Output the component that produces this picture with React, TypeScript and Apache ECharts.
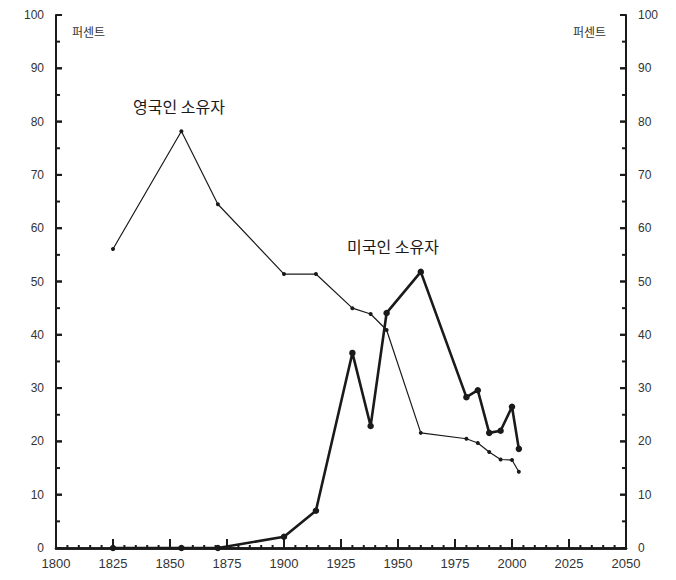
import React, { useEffect, useRef } from "react";
import * as echarts from "echarts";

const britishYears = [1825, 1855, 1871, 1900, 1914, 1930, 1938, 1945, 1960, 1980, 1985, 1990, 1995, 2000, 2003];
const britishValues = [56.1, 78.2, 64.5, 51.4, 51.4, 45.0, 43.9, 40.9, 21.6, 20.5, 19.7, 18.0, 16.6, 16.5, 14.3];

const americanYears = [1825, 1855, 1871, 1900, 1914, 1930, 1938, 1945, 1960, 1980, 1985, 1990, 1995, 2000, 2003];
const americanValues = [0, 0, 0, 2.1, 7.0, 36.6, 22.9, 44.1, 51.8, 28.3, 29.6, 21.6, 22.0, 26.5, 18.6];

const xTickLabels = [1800, 1825, 1850, 1875, 1900, 1925, 1950, 1975, 2000, 2025, 2050];
const yTickLabels = [0, 10, 20, 30, 40, 50, 60, 70, 80, 90, 100];

const unitLabel = "퍼센트";
const britishLabel = "영국인 소유자";
const americanLabel = "미국인 소유자";

const INK = "#1a1a1a";
const TEXT = "#333333";
const LATIN = "'Liberation Sans', Arial, sans-serif";
const KR = "'Noto Sans CJK KR', sans-serif";

const X_MIN = 1800;
const X_MAX = 2050;
const Y_MIN = 0;
const Y_MAX = 100;

const xMinorTicks: number[] = [];
for (let i = 0; i < xTickLabels.length - 1; i++) {
  const step = (xTickLabels[i + 1] - xTickLabels[i]) / 5;
  for (let k = 1; k < 5; k++) xMinorTicks.push(xTickLabels[i] + step * k);
}
const yMinorTicks: number[] = [];
for (let i = 0; i < yTickLabels.length - 1; i++) {
  yMinorTicks.push((yTickLabels[i] + yTickLabels[i + 1]) / 2);
}

function tickSeries(positions: number[], axis: "x" | "left" | "right", len: number, asRect: boolean) {
  return {
    type: "custom",
    silent: true,
    clip: false,
    z: 6,
    data: positions.map((p) => (axis === "x" ? [p, Y_MIN] : [axis === "left" ? X_MIN : X_MAX, p])),
    renderItem: (_params: any, api: any) => {
      const pt = api.coord([api.value(0), api.value(1)]);
      if (asRect) {
        let shape;
        if (axis === "x") shape = { x: pt[0] - 1, y: pt[1] - len, width: 2, height: len };
        else if (axis === "left") shape = { x: pt[0], y: pt[1] - 1, width: len, height: 2 };
        else shape = { x: pt[0] - len, y: pt[1] - 1, width: len, height: 2 };
        return { type: "rect", shape, style: { fill: INK } };
      }
      let x2 = pt[0];
      let y2 = pt[1];
      if (axis === "x") y2 = pt[1] - len;
      else if (axis === "left") x2 = pt[0] + len;
      else x2 = pt[0] - len;
      return {
        type: "line",
        shape: { x1: pt[0], y1: pt[1], x2, y2 },
        style: { stroke: INK, lineWidth: 2 },
      };
    },
  };
}

export default function App() {
  const ref = useRef<HTMLDivElement>(null);

  useEffect(() => {
    document.body.style.margin = "0";
    const chart = echarts.init(ref.current!, null, { renderer: "svg" });

    const yAxis = (pos: "left" | "right") => ({
      type: "value" as const,
      position: pos,
      min: Y_MIN,
      max: Y_MAX,
      interval: 10,
      axisLine: { show: true, lineStyle: { color: INK, width: 2 } },
      axisTick: { show: false },
      splitLine: { show: false },
      axisLabel: { show: true, color: TEXT, fontFamily: LATIN, fontSize: 12, margin: 12 },
    });

    chart.setOption({
      animation: false,
      grid: { left: 56, right: 50, top: 15, bottom: 32, show: false },
      xAxis: [
        {
          type: "value",
          position: "bottom",
          min: X_MIN,
          max: X_MAX,
          interval: 25,
          axisLine: { show: true, lineStyle: { color: INK, width: 2.5 } },
          axisTick: { show: false },
          splitLine: { show: false },
          axisLabel: {
            color: TEXT,
            fontFamily: LATIN,
            fontSize: 13,
            margin: 9,
            formatter: (v: number) => String(v),
          },
        },
        {
          type: "value",
          position: "top",
          min: X_MIN,
          max: X_MAX,
          interval: 25,
          axisLine: { show: true, lineStyle: { color: INK, width: 2.5 } },
          axisTick: { show: false },
          splitLine: { show: false },
          axisLabel: { show: false },
        },
      ],
      yAxis: [yAxis("left"), yAxis("right")],
      series: [
        tickSeries(xTickLabels, "x", 9, true),
        tickSeries(xMinorTicks, "x", 3, false),
        tickSeries(yTickLabels, "left", 6, true),
        tickSeries(yMinorTicks, "left", 4, false),
        tickSeries(yTickLabels, "right", 6, true),
        tickSeries(yMinorTicks, "right", 4, false),
        {
          type: "line",
          name: britishLabel,
          data: britishYears.map((y, i) => [y, britishValues[i]]),
          symbol: "circle",
          symbolSize: 4,
          lineStyle: { color: INK, width: 1.2 },
          itemStyle: { color: INK },
          z: 3,
        },
        {
          type: "line",
          name: americanLabel,
          data: americanYears.map((y, i) => [y, americanValues[i]]),
          symbol: "circle",
          symbolSize: 6.5,
          lineStyle: { color: INK, width: 2.6 },
          itemStyle: { color: INK },
          z: 4,
        },
      ],
    });

    // Major ticks again as graphic rects, positioned through the axes' own scales
    const px = (v: number) => chart.convertToPixel({ xAxisIndex: 0 }, v) as number;
    const py = (v: number) => chart.convertToPixel({ yAxisIndex: 0 }, v) as number;
    const xl = px(X_MIN);
    const xr = px(X_MAX);
    const yb = py(Y_MIN);
    const tickRects: any[] = [];
    xTickLabels.forEach((v) => {
      tickRects.push({ type: "rect", z: 20, silent: true, shape: { x: px(v) - 1, y: yb - 9, width: 2, height: 9 }, style: { fill: INK } });
    });
    yTickLabels.forEach((v) => {
      tickRects.push({ type: "rect", z: 20, silent: true, shape: { x: xl, y: py(v) - 1, width: 6, height: 2 }, style: { fill: INK } });
      tickRects.push({ type: "rect", z: 20, silent: true, shape: { x: xr - 6, y: py(v) - 1, width: 6, height: 2 }, style: { fill: INK } });
    });

    chart.setOption({
      graphic: [
        { type: "text", left: 72, top: 25, style: { text: unitLabel, fill: TEXT, font: `12px ${KR}` } },
        { type: "text", left: 573, top: 25, style: { text: unitLabel, fill: TEXT, font: `12px ${KR}` } },
        { type: "text", left: 133, top: 98, style: { text: britishLabel, fill: INK, font: `16px ${KR}` } },
        { type: "text", left: 347, top: 238, style: { text: americanLabel, fill: INK, font: `16px ${KR}` } },
        ...tickRects,
      ],
    });

    return () => chart.dispose();
  }, []);

  return <div ref={ref} style={{ width: 676, height: 580 }} />;
}
